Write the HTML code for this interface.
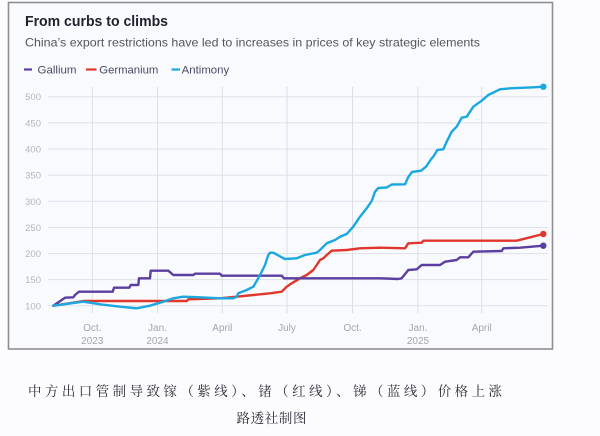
<!DOCTYPE html>
<html>
<head>
<meta charset="utf-8">
<style>
  html,body{margin:0;padding:0;background:#fcfcfe;}
  body{width:600px;height:436px;overflow:hidden;}
  svg{display:block;}
</style>
</head>
<body>
<svg width="600" height="436" viewBox="0 0 600 436" xmlns="http://www.w3.org/2000/svg">
  <rect x="0" y="0" width="600" height="436" fill="#fcfcfe"/>
  <!-- frame -->
  <rect x="8.5" y="2.5" width="544" height="346.5" fill="#f9fafd" stroke="#8e8e94" stroke-width="1.6"/>

  <!-- title -->
  <text x="25" y="26" font-family="Liberation Sans, sans-serif" font-weight="bold" font-size="14.5" fill="#22222e" textLength="143" lengthAdjust="spacingAndGlyphs">From curbs to climbs</text>
  <text x="25" y="46.5" font-family="Liberation Sans, sans-serif" font-size="12" fill="#55555f" textLength="455" lengthAdjust="spacingAndGlyphs">China’s export restrictions have led to increases in prices of key strategic elements</text>

  <!-- legend -->
  <g font-family="Liberation Sans, sans-serif" font-size="11" fill="#4a4866">
    <line x1="24" y1="69.5" x2="32" y2="69.5" stroke="#5b3fa0" stroke-width="2.2"/>
    <text x="37.5" y="73.3" textLength="39" lengthAdjust="spacingAndGlyphs">Gallium</text>
    <line x1="86" y1="69.5" x2="96.5" y2="69.5" stroke="#e0362c" stroke-width="2.2"/>
    <text x="99.3" y="73.3" textLength="59" lengthAdjust="spacingAndGlyphs">Germanium</text>
    <line x1="171.5" y1="69.5" x2="180" y2="69.5" stroke="#1ba8e0" stroke-width="2.2"/>
    <text x="181.7" y="73.3" textLength="47.5" lengthAdjust="spacingAndGlyphs">Antimony</text>
  </g>

  <!-- gridlines -->
  <g stroke="#dfe1e8" stroke-width="1">
    <line x1="48" y1="96.7" x2="548" y2="96.7"/>
    <line x1="48" y1="122.9" x2="548" y2="122.9"/>
    <line x1="48" y1="149" x2="548" y2="149"/>
    <line x1="48" y1="175.2" x2="548" y2="175.2"/>
    <line x1="48" y1="201.3" x2="548" y2="201.3"/>
    <line x1="48" y1="227.5" x2="548" y2="227.5"/>
    <line x1="48" y1="253.6" x2="548" y2="253.6"/>
    <line x1="48" y1="279.6" x2="548" y2="279.6"/>
    <line x1="48" y1="305.8" x2="548" y2="305.8"/>
  </g>
  <g stroke="#dcdee5" stroke-width="1">
    <line x1="92.3" y1="87" x2="92.3" y2="313"/>
    <line x1="157.5" y1="87" x2="157.5" y2="313"/>
    <line x1="222.3" y1="87" x2="222.3" y2="313"/>
    <line x1="287" y1="87" x2="287" y2="313"/>
    <line x1="352.5" y1="87" x2="352.5" y2="313"/>
    <line x1="418" y1="87" x2="418" y2="313"/>
    <line x1="481.7" y1="87" x2="481.7" y2="313"/>
  </g>

  <!-- y labels -->
  <g font-family="Liberation Sans, sans-serif" font-size="9.5" fill="#b4b6c0" text-anchor="end">
    <text x="41" y="100.2">500</text>
    <text x="41" y="126.4">450</text>
    <text x="41" y="152.5">400</text>
    <text x="41" y="178.7">350</text>
    <text x="41" y="204.8">300</text>
    <text x="41" y="231">250</text>
    <text x="41" y="257.1">200</text>
    <text x="41" y="283.1">150</text>
    <text x="41" y="309.3">100</text>
  </g>

  <!-- x labels -->
  <g font-family="Liberation Sans, sans-serif" font-size="10" fill="#a2a5b0" text-anchor="middle">
    <text x="92.3" y="331">Oct.</text>
    <text x="92.3" y="344">2023</text>
    <text x="157.5" y="331">Jan.</text>
    <text x="157.5" y="344">2024</text>
    <text x="222.3" y="331">April</text>
    <text x="287" y="331">July</text>
    <text x="352.5" y="331">Oct.</text>
    <text x="418" y="331">Jan.</text>
    <text x="418" y="344">2025</text>
    <text x="481.7" y="331">April</text>
  </g>

  <!-- series -->
  <g fill="none" stroke-width="2.4" stroke-linejoin="round" stroke-linecap="round">
    <!-- Germanium -->
    <polyline stroke="#e0362c" points="53.3,305.7 65,304 83.3,301 186.7,301 188.3,299.3 220,298.3 236.7,296.7 253.3,295 270,293.3 281.7,291.7 286.7,286.7 291.7,283.3 300,278.3 306.7,275 313.3,270 316.7,265 320,260 323.3,258.3 326.7,255 331.7,250.7 346.7,250 360,248.3 380,247.7 405,248.3 408.3,243.3 421.7,242.7 423.3,240.7 516.7,240.7 543.3,234"/>
    <!-- Gallium -->
    <polyline stroke="#5b3fa0" points="53.3,305.7 65,297.7 73.3,297.3 75,295 79,291.7 112.7,291.7 114,287.7 129.3,287.7 130.7,285 138.3,285 139,278.3 150,278.3 150.7,270.7 168.3,270.7 173.3,275 193.3,275 195,273.7 220,273.7 221.7,275.7 281.7,275.7 284,278.3 380,278.3 398,279 401.7,278.3 408.3,270 416.7,269.3 421.7,265 440,265 445,261.7 456.7,260 460,257.3 468.3,257.3 473.3,251.7 501.7,251 503.3,248.3 520,247.7 543.3,245.7"/>
    <!-- Antimony -->
    <polyline stroke="#1ba8e0" points="53.3,305.7 83,301.7 90,302.7 100,304.3 120,306.7 136.7,308.3 150,305.7 163.3,301.7 173.3,298.3 183.3,296.7 200,297.3 220,298.3 233.3,298.3 236.7,296.7 238.3,293.3 246.7,290 253.3,286.7 258.3,278.3 261.7,271.7 265,265 268.3,255 270,252.7 273.3,252.7 281.7,257.3 285,259 296.7,258.3 305,255 316.7,252.7 320,250 326.7,243.3 335,240 340,236.7 346.7,234 353.3,226.7 360,216.7 366.7,208.3 371.7,201 375,191.7 378.3,188 386.7,187.5 391.7,184.5 405,184.3 408.3,177 412,172 421,170.7 426,166.7 431.7,158.3 433.3,156.7 437.3,150 443.3,149.3 446.7,141.7 451.7,131.7 456.7,126.7 461.7,117.7 466.7,116.7 473.3,106.7 481.7,100.7 488.3,95 500,89.3 510,88.3 533.3,87.3 543.3,86.7"/>
  </g>
  <circle cx="543.3" cy="86.7" r="3.2" fill="#1ba8e0"/>
  <circle cx="543.3" cy="234" r="3.2" fill="#e0362c"/>
  <circle cx="543.3" cy="245.7" r="3.2" fill="#5b3fa0"/>

  <!-- caption -->
  <text x="28" y="396" font-family="Liberation Serif, Noto Serif CJK SC, serif" font-size="13.5" fill="#2c2b38" textLength="474" lengthAdjust="spacing">中方出口管制导致镓（紫线）、锗（红线）、锑（蓝线）价格上涨</text>
  <text x="236.5" y="423" font-family="Liberation Serif, Noto Serif CJK SC, serif" font-size="13.5" fill="#2c2b38" textLength="70" lengthAdjust="spacing">路透社制图</text>
</svg>
</body>
</html>
